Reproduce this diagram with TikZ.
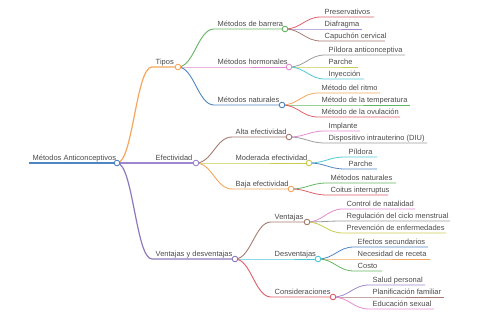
\documentclass[tikz,border=0pt]{standalone}
\usepackage{fontspec}
\setmainfont{Liberation Sans}
\usepackage{xcolor}
\definecolor{cblue}{HTML}{4F86C2}
\definecolor{corange}{HTML}{F5A65B}
\definecolor{cgreen}{HTML}{62B562}
\definecolor{cred}{HTML}{DE5F68}
\definecolor{cpurple}{HTML}{9E86D0}
\definecolor{cbrown}{HTML}{A57B72}
\definecolor{cpink}{HTML}{E48BD0}
\definecolor{cgray}{HTML}{9C9C9C}
\definecolor{colive}{HTML}{C9CB4C}
\definecolor{ccyan}{HTML}{4EC8D6}
\definecolor{txt}{HTML}{4A4A4A}
\tikzstyle{lbl}=[anchor=base west, inner sep=0pt, xshift=3.5pt, yshift=2.4pt,
  font=\fontsize{7.5}{8}\selectfont, text=txt]
\tikzstyle{dot}=[circle, fill=white, line width=0.9pt, inner sep=0pt, minimum size=5.6pt]
\tikzstyle{link}=[out=0, in=180, out distance=16pt, in distance=16pt]
% #1 name, #2 parent, #3 colour, #4 width, #5 y, #6 start x, #7 end x, #8 text
\newcommand{\branch}[8]{%
  \coordinate (#1-s) at (#6,#5);
  \coordinate (#1) at (#7,#5);
  \node[lbl] (#1-t) at (#1-s) {#8};
  \draw[#3, line width=#4] (#2) to[link] (#1-s) -- (#1);
}

\begin{document}
\begin{tikzpicture}[x=1pt, y=-1pt]
  \useasboundingbox (0,0) rectangle (480,320);
  % root
  \coordinate (root-s) at (29,163);
  \coordinate (root) at (117,163);
  \node[lbl] (root-t) at (root-s) {Métodos Anticonceptivos};
  \draw[cblue, line width=1.7pt] (root-s) -- (root);

  % first level
  \branch{tipos}{root}{corange}{1.2pt}{67}{152}{178}{Tipos}
  \branch{efec}{root}{cpurple}{1.2pt}{163}{152}{196}{Efectividad}
  \branch{vyd}{root}{cpurple!90!black}{1.2pt}{259}{152}{235}{Ventajas y desventajas}

  % tipos
  \branch{barr}{tipos}{cgreen}{0.9pt}{29}{214}{285}{Métodos de barrera}
  \branch{horm}{tipos}{cpink}{0.9pt}{67}{214}{289}{Métodos hormonales}
  \branch{natu}{tipos}{cblue}{0.9pt}{105}{214}{282}{Métodos naturales}
  \branch{pres}{barr}{cred}{0.8pt}{17}{321}{374}{Preservativos}
  \branch{diaf}{barr}{cpurple}{0.8pt}{29}{321}{362}{Diafragma}
  \branch{capu}{barr}{cbrown}{0.8pt}{41}{321}{385}{Capuchón cervical}
  \branch{pild}{horm}{cgray}{0.8pt}{55}{325}{405}{Píldora anticonceptiva}
  \branch{parc}{horm}{colive}{0.8pt}{67}{325}{358}{Parche}
  \branch{inye}{horm}{ccyan}{0.8pt}{79}{325}{364}{Inyección}
  \branch{ritm}{natu}{corange}{0.8pt}{93}{318}{380}{Método del ritmo}
  \branch{temp}{natu}{cgreen}{0.8pt}{105}{318}{410}{Método de la temperatura}
  \branch{ovul}{natu}{cred}{0.8pt}{117}{318}{400}{Método de la ovulación}

  % efectividad
  \branch{alta}{efec}{cbrown}{0.9pt}{137}{232}{289}{Alta efectividad}
  \branch{mode}{efec}{colive}{0.9pt}{163}{232}{309}{Moderada efectividad}
  \branch{baja}{efec}{corange}{0.9pt}{189}{232}{291}{Baja efectividad}
  \branch{impl}{alta}{cpink}{0.8pt}{131}{325}{360}{Implante}
  \branch{diu}{alta}{cgray}{0.8pt}{143}{325}{427}{Dispositivo intrauterino (DIU)}
  \branch{pil2}{mode}{ccyan}{0.8pt}{157}{345}{377}{Píldora}
  \branch{par2}{mode}{cblue}{0.8pt}{169}{345}{377}{Parche}
  \branch{nat2}{baja}{cgreen}{0.8pt}{183}{327}{396}{Métodos naturales}
  \branch{coit}{baja}{cred}{0.8pt}{195}{327}{388}{Coitus interruptus}

  % ventajas y desventajas
  \branch{vent}{vyd}{cbrown}{0.9pt}{222}{271}{307}{Ventajas}
  \branch{desv}{vyd}{ccyan}{0.9pt}{259}{271}{318}{Desventajas}
  \branch{cons}{vyd}{cred}{0.9pt}{297}{271}{333}{Consideraciones}
  \branch{ctrl}{vent}{cpink}{0.8pt}{209}{343}{415}{Control de natalidad}
  \branch{regu}{vent}{cgray}{0.8pt}{221}{343}{450}{Regulación del ciclo menstrual}
  \branch{prev}{vent}{colive}{0.8pt}{233}{343}{446}{Prevención de enfermedades}
  \branch{efsc}{desv}{cblue}{0.8pt}{247}{354}{428}{Efectos secundarios}
  \branch{nece}{desv}{corange}{0.8pt}{259}{354}{430}{Necesidad de receta}
  \branch{cost}{desv}{cgreen}{0.8pt}{271}{354}{382}{Costo}
  \branch{salu}{cons}{cpurple}{0.8pt}{285}{369}{425}{Salud personal}
  \branch{plan}{cons}{cbrown}{0.8pt}{297}{369}{444}{Planificación familiar}
  \branch{educ}{cons}{cpink}{0.8pt}{309}{369}{434}{Educación sexual}

  % circles on top
  \foreach \n/\c in {root/cblue, tipos/corange, efec/cpurple, vyd/cpurple!90!black,
      barr/cgreen, horm/cpink, natu/cblue, alta/cbrown, mode/colive, baja/corange,
      vent/cbrown, desv/ccyan, cons/cred}
    \node[dot, draw=\c] at (\n) {};
\end{tikzpicture}
\end{document}
